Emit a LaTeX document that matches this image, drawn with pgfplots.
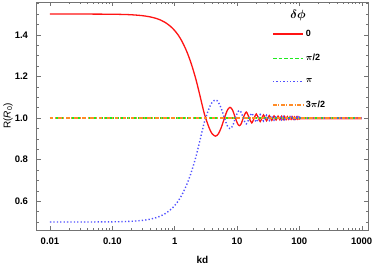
\documentclass[border=0pt]{standalone}
\usepackage{amsmath,amsbsy}
\usepackage{pgfplots}
\pgfplotsset{compat=1.18}
\usepackage{fontspec}
\setmainfont{Liberation Sans}
\definecolor{cred}{RGB}{255,20,20}
\definecolor{cgreen}{RGB}{30,235,30}
\definecolor{cblue}{RGB}{80,80,255}
\definecolor{corange}{RGB}{255,140,40}
\pgfplotsset{legend image code/.code={\draw[#1] (0pt,0pt) -- (30pt,0pt);}}
\begin{document}
\begin{tikzpicture}
\useasboundingbox (-36.7pt,-39pt) rectangle (338.3pt,230pt);
\begin{axis}[
  xmode=log,
  scale only axis,
  width=331.6pt, height=228pt,
  xmin=0.00612, xmax=1276,
  ymin=0.4615, ymax=1.558,
  xtick={0.01,0.1,1,10,100,1000},
  xticklabels={0.01,0.10,1,10,100,1000},
  ytick={0.6,0.8,1.0,1.2,1.4},
  yticklabels={0.6,0.8,1.0,1.2,1.4},
  minor ytick={0.5,0.55,0.65,0.7,0.75,0.85,0.9,0.95,1.05,1.1,1.15,1.25,1.3,1.35,1.45,1.5,1.55},
  tick align=inside,
  major tick length=4pt, minor tick length=2pt,
  tick style={black!55, line width=0.4pt},
  axis line style={black!55, line width=0.6pt},
  ticklabel style={font=\bfseries\fontsize{9.5}{11}\selectfont, inner sep=0pt},
  xticklabel style={anchor=north, yshift=-8pt},
  yticklabel style={anchor=east, xshift=-8.5pt},
  xlabel={\textbf{kd}},
  ylabel={R(\textit{R}\textsubscript{0})},
  label style={font=\fontsize{10}{12}\selectfont},
  xlabel style={at={([yshift=-30pt]axis description cs:0.5,0)}, anchor=center},
  ylabel style={at={([xshift=-28.7pt]axis description cs:0,0.5)}, anchor=center},
  legend style={at={(rel axis cs:0.710,0.887)}, anchor=north west, draw=none, fill=none,
    font=\bfseries\fontsize{9}{10}\selectfont, row sep=12.5pt, inner sep=0pt},
  legend cell align=left,
]
\addplot[red!25, line width=3pt, forget plot] coordinates {(60,1) (1000,1)};
\addplot[color=cred, line width=1.3pt, smooth] coordinates {
(0.01,1.5)(0.03,1.49993)(0.05,1.4998)(0.1,1.4992)(0.15,1.4981)(0.2,1.4967)(0.3,1.4925)(0.4,1.4867)(0.5,1.4794)(0.6,1.4706)(0.7,1.4602)(0.85,1.4418)(1.0,1.4207)(1.15,1.3973)(1.3,1.3706)(1.45,1.3419)(1.6,1.3124)(1.8,1.2707)(2.0,1.2273)(2.2,1.1840)(2.4,1.1390)(2.6,1.0958)(2.8,1.0550)(3.0,1.0190)(3.1416,1.0)(3.4,0.9700)(3.7,0.9420)(4.0,0.9240)(4.493,0.9130)(5.0,0.9230)(5.6,0.9550)(6.2832,1.0)(7.0,1.0375)(7.725,1.0514)(8.5,1.0376)(9.4248,1.0)(10.2,0.9730)(10.904,0.9635)(11.7,0.9730)(12.566,1.0)(14.066,1.0284)(15.708,1.0)(17.221,0.9768)(18.85,1.0)(20.371,1.0196)(21.99,1.0)(23.519,0.9830)(25.13,1.0)(26.666,1.0150)(28.27,1.0)(29.812,0.9866)(31.42,1.0)(32.956,1.0121)(34.56,1.0)(36.1,0.9889)(37.7,1.0)(39.24,1.0102)(40.84,1.0)(42.39,0.9906)(43.98,1.0)(45.53,1.0088)(47.12,1.0)(48.67,0.9918)(50.27,1.0)(51.8,1.0077)(53.41,1.0)(54.96,0.9927)(56.55,1.0)(58.1,1.0069)(59.69,1.0)(61.26,0.9935)(64.4,1.0062)(67.54,0.9941)(70.69,1.0057)(73.83,0.9946)(76.97,1.0052)(80.11,0.9950)(83.25,1.0048)(86.39,0.9954)(89.54,1.0045)(92.68,0.9957)(95.82,1.0042)(98.96,0.9960)(105,1.0)(1000,1.0)};
\addlegendentry{0}
\addplot[color=cgreen, line width=1.5pt, dash pattern=on 3.5pt off 2pt] coordinates {(0.01,1)(1000,1)};
\addlegendentry{$\boldsymbol{\pi}$/2}
\addplot[color=cblue, line width=1.4pt, dash pattern=on 1.3pt off 2.1pt, smooth] coordinates {
(0.01,0.5)(0.03,0.50007)(0.05,0.5002)(0.1,0.5008)(0.15,0.5019)(0.2,0.5033)(0.3,0.5075)(0.4,0.5133)(0.5,0.5206)(0.6,0.5294)(0.7,0.5398)(0.85,0.5582)(1.0,0.5793)(1.15,0.6027)(1.3,0.6294)(1.45,0.6581)(1.6,0.6876)(1.8,0.7293)(2.0,0.7727)(2.2,0.8160)(2.4,0.8610)(2.6,0.9042)(2.8,0.9450)(3.0,0.9810)(3.1416,1.0)(3.4,1.0300)(3.7,1.0580)(4.0,1.0760)(4.493,1.0870)(5.0,1.0770)(5.6,1.0450)(6.2832,1.0)(7.0,0.9625)(7.725,0.9486)(8.5,0.9624)(9.4248,1.0)(10.2,1.0270)(10.904,1.0365)(11.7,1.0270)(12.566,1.0)(14.066,0.9716)(15.708,1.0)(17.221,1.0232)(18.85,1.0)(20.371,0.9804)(21.99,1.0)(23.519,1.0170)(25.13,1.0)(26.666,0.9850)(28.27,1.0)(29.812,1.0134)(31.42,1.0)(32.956,0.9879)(34.56,1.0)(36.1,1.0111)(37.7,1.0)(39.24,0.9898)(40.84,1.0)(42.39,1.0094)(43.98,1.0)(45.53,0.9912)(47.12,1.0)(48.67,1.0082)(50.27,1.0)(51.8,0.9923)(53.41,1.0)(54.96,1.0073)(56.55,1.0)(58.1,0.9931)(59.69,1.0)(61.26,1.0065)(64.4,0.9938)(67.54,1.0059)(70.69,0.9943)(73.83,1.0054)(76.97,0.9948)(80.11,1.0050)(83.25,0.9952)(86.39,1.0046)(89.54,0.9955)(92.68,1.0043)(95.82,0.9958)(98.96,1.0040)(105,1.0)(1000,1.0)};
\addlegendentry{$\boldsymbol{\pi}$}
\addplot[color=corange, line width=1.5pt, dash pattern=on 3.5pt off 1.8pt on 1pt off 1.8pt] coordinates {(0.01,1)(1000,1)};
\addlegendentry{3$\boldsymbol{\pi}$/2}
\node[font=\fontsize{12}{13}\selectfont] at (rel axis cs:0.788,0.939) {$\boldsymbol{\delta\phi}$};
\end{axis}
\end{tikzpicture}
\end{document}
